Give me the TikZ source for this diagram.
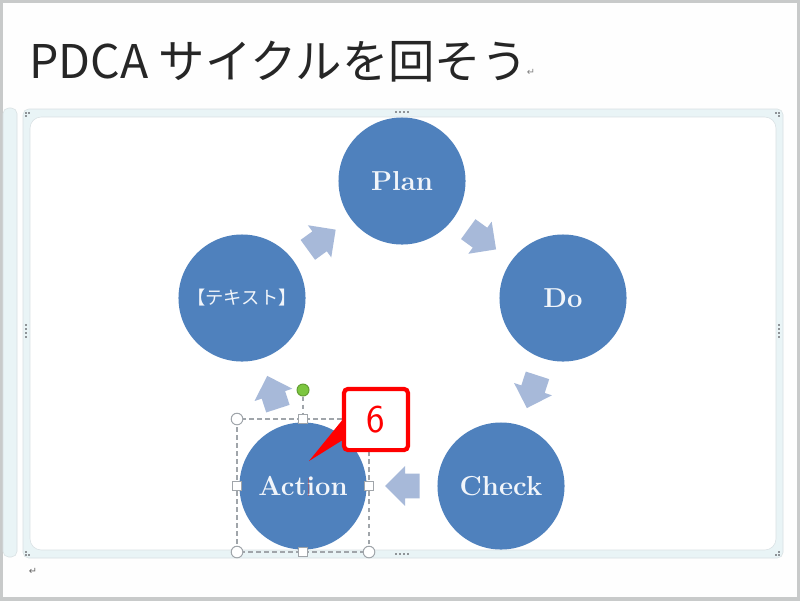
\documentclass[tikz,border=0pt]{standalone}
\usepackage{fontspec}
\newfontfamily\cjk{Noto Sans CJK JP}
\newfontfamily\dejavu{DejaVu Sans}
\usepackage{tikz}
\usetikzlibrary{calc}
\usetikzlibrary{shapes.arrows}
\definecolor{stepblue}{HTML}{4F81BD}
\definecolor{arrowblue}{HTML}{A7B9D9}
\definecolor{framefill}{HTML}{E9F4F6}
\definecolor{frameline}{HTML}{D8E0E3}
\definecolor{pageline}{HTML}{C8CACA}
\definecolor{handlegray}{HTML}{A0A5AA}
\definecolor{gripgray}{HTML}{8F9498}
\definecolor{rotgreen}{HTML}{7CC63F}
\tikzset{
  stepcircle/.style={circle,fill=stepblue,minimum size=3.175cm,inner sep=0pt,text=white!92!stepblue,font=\fontsize{19.5}{24}\selectfont\bfseries},
  blockarrow/.style={single arrow,anchor=tail,fill=arrowblue,minimum height=0.86cm,minimum width=0.98cm,single arrow head extend=0.19cm,single arrow head indent=0cm,inner xsep=0pt,inner ysep=0.3cm},
  roundhandle/.style={circle,draw=handlegray,fill=white,line width=0.7pt,minimum size=0.29cm,inner sep=0pt},
  squarehandle/.style={rectangle,draw=handlegray,fill=white,line width=0.7pt,minimum size=0.21cm,inner sep=0pt},
  griphandle/.style={fill=gripgray,minimum size=0.05cm,inner sep=0pt},
  selectline/.style={handlegray,line width=1pt,dash pattern=on 3.5pt off 2.2pt}
}
\begin{document}
\begin{tikzpicture}[x=0.025cm,y=-0.025cm]
  \useasboundingbox (0,0) rectangle (800,600);
  \fill[white!99!gray] (0,0) rectangle (800,600);
  \draw[pageline,line width=2.2pt] (1,1) rectangle (799,599);
  \node[anchor=base west,inner sep=0pt,font=\cjk\fontsize{33}{38}\selectfont,text=black!85] (title) at (29,78) {PDCA サイクルを回そう};
  \node[inner sep=0pt,font=\dejavu\fontsize{7}{8}\selectfont,text=gray] (titlemark) at (531,72) {↵};
  \node[inner sep=0pt,font=\dejavu\fontsize{7}{8}\selectfont,text=black!60] (endmark) at (33,571) {↵};
  \filldraw[draw=frameline,fill=framefill,rounded corners=4pt] (3,108) rectangle (17,557);
  \filldraw[draw=frameline,fill=framefill,rounded corners=4pt] (23,109) rectangle (783,558);
  \filldraw[draw=frameline,fill=white,rounded corners=8pt] (30,117) rectangle (776,550);
  \foreach \x in {396,400,404,408} {
    \node[griphandle] at (\x,112) {};
    \node[griphandle] at (\x,554) {};
  }
  \foreach \y in {325,329,333,337} {
    \node[griphandle] at (26,\y) {};
    \node[griphandle] at (779,\y) {};
  }
  \foreach \x/\y in {26/113,29/113,26/116,776/113,779/113,779/116,26/552,26/555,29/555,776/555,779/555,779/552} {
    \node[griphandle] at (\x,\y) {};
  }
  \node[stepcircle] (plan) at (402,181) {Plan};
  \node[stepcircle] (do) at (563,298) {Do};
  \node[stepcircle] (check) at (501,486) {Check};
  \node[stepcircle] (action) at (303,486) {Action};
  \node[stepcircle,font=\cjk\fontsize{13}{15}\selectfont] (blank) at (242,298) {【テキスト】};
  \node[blockarrow,rotate=-36] (plantodo) at ($(plan)!0.41!(do)$) {};
  \node[blockarrow,rotate=-108] (dotocheck) at ($(do)!0.41!(check)$) {};
  \node[blockarrow,rotate=180] (checktoaction) at ($(check)!0.41!(action)$) {};
  \node[blockarrow,rotate=108] (actiontoblank) at ($(action)!0.41!(blank)$) {};
  \node[blockarrow,rotate=36] (blanktoplan) at ($(blank)!0.41!(plan)$) {};
  \coordinate (boxnw) at (237,419);
  \coordinate (boxse) at (369,552);
  \node[roundhandle,fill=rotgreen,draw=rotgreen!80!black,minimum size=0.3cm] (rotate) at (303,390) {};
  \draw[selectline] (boxnw) rectangle (boxse);
  \node[squarehandle] (hn) at (303,419) {};
  \draw[selectline] (rotate) -- (hn);
  \node[squarehandle] (hw) at (237,486) {};
  \node[squarehandle] (he) at (369,486) {};
  \node[squarehandle] (hs) at (303,552) {};
  \node[roundhandle] (hnw) at (boxnw) {};
  \node[roundhandle] (hsw) at (237,552) {};
  \node[roundhandle] (hse) at (boxse) {};
  \draw[red!50!gray,line width=0.6pt,opacity=0.5] (308,478) -- (308,496);
  \node[rectangle,draw=red,fill=white,line width=3pt,rounded corners=3pt,minimum width=1.6cm,minimum height=1.53cm,inner sep=0pt,text=red,font=\fontsize{28}{32}\selectfont\sffamily] (six) at (376,419.5) {6};
  \coordinate (sixtip) at (309,461);
  \fill[red] (sixtip) -- ($(six.west)+(0,1)$) -- ($(six.west)+(0,21)$) -- cycle;
\end{tikzpicture}
\end{document}
